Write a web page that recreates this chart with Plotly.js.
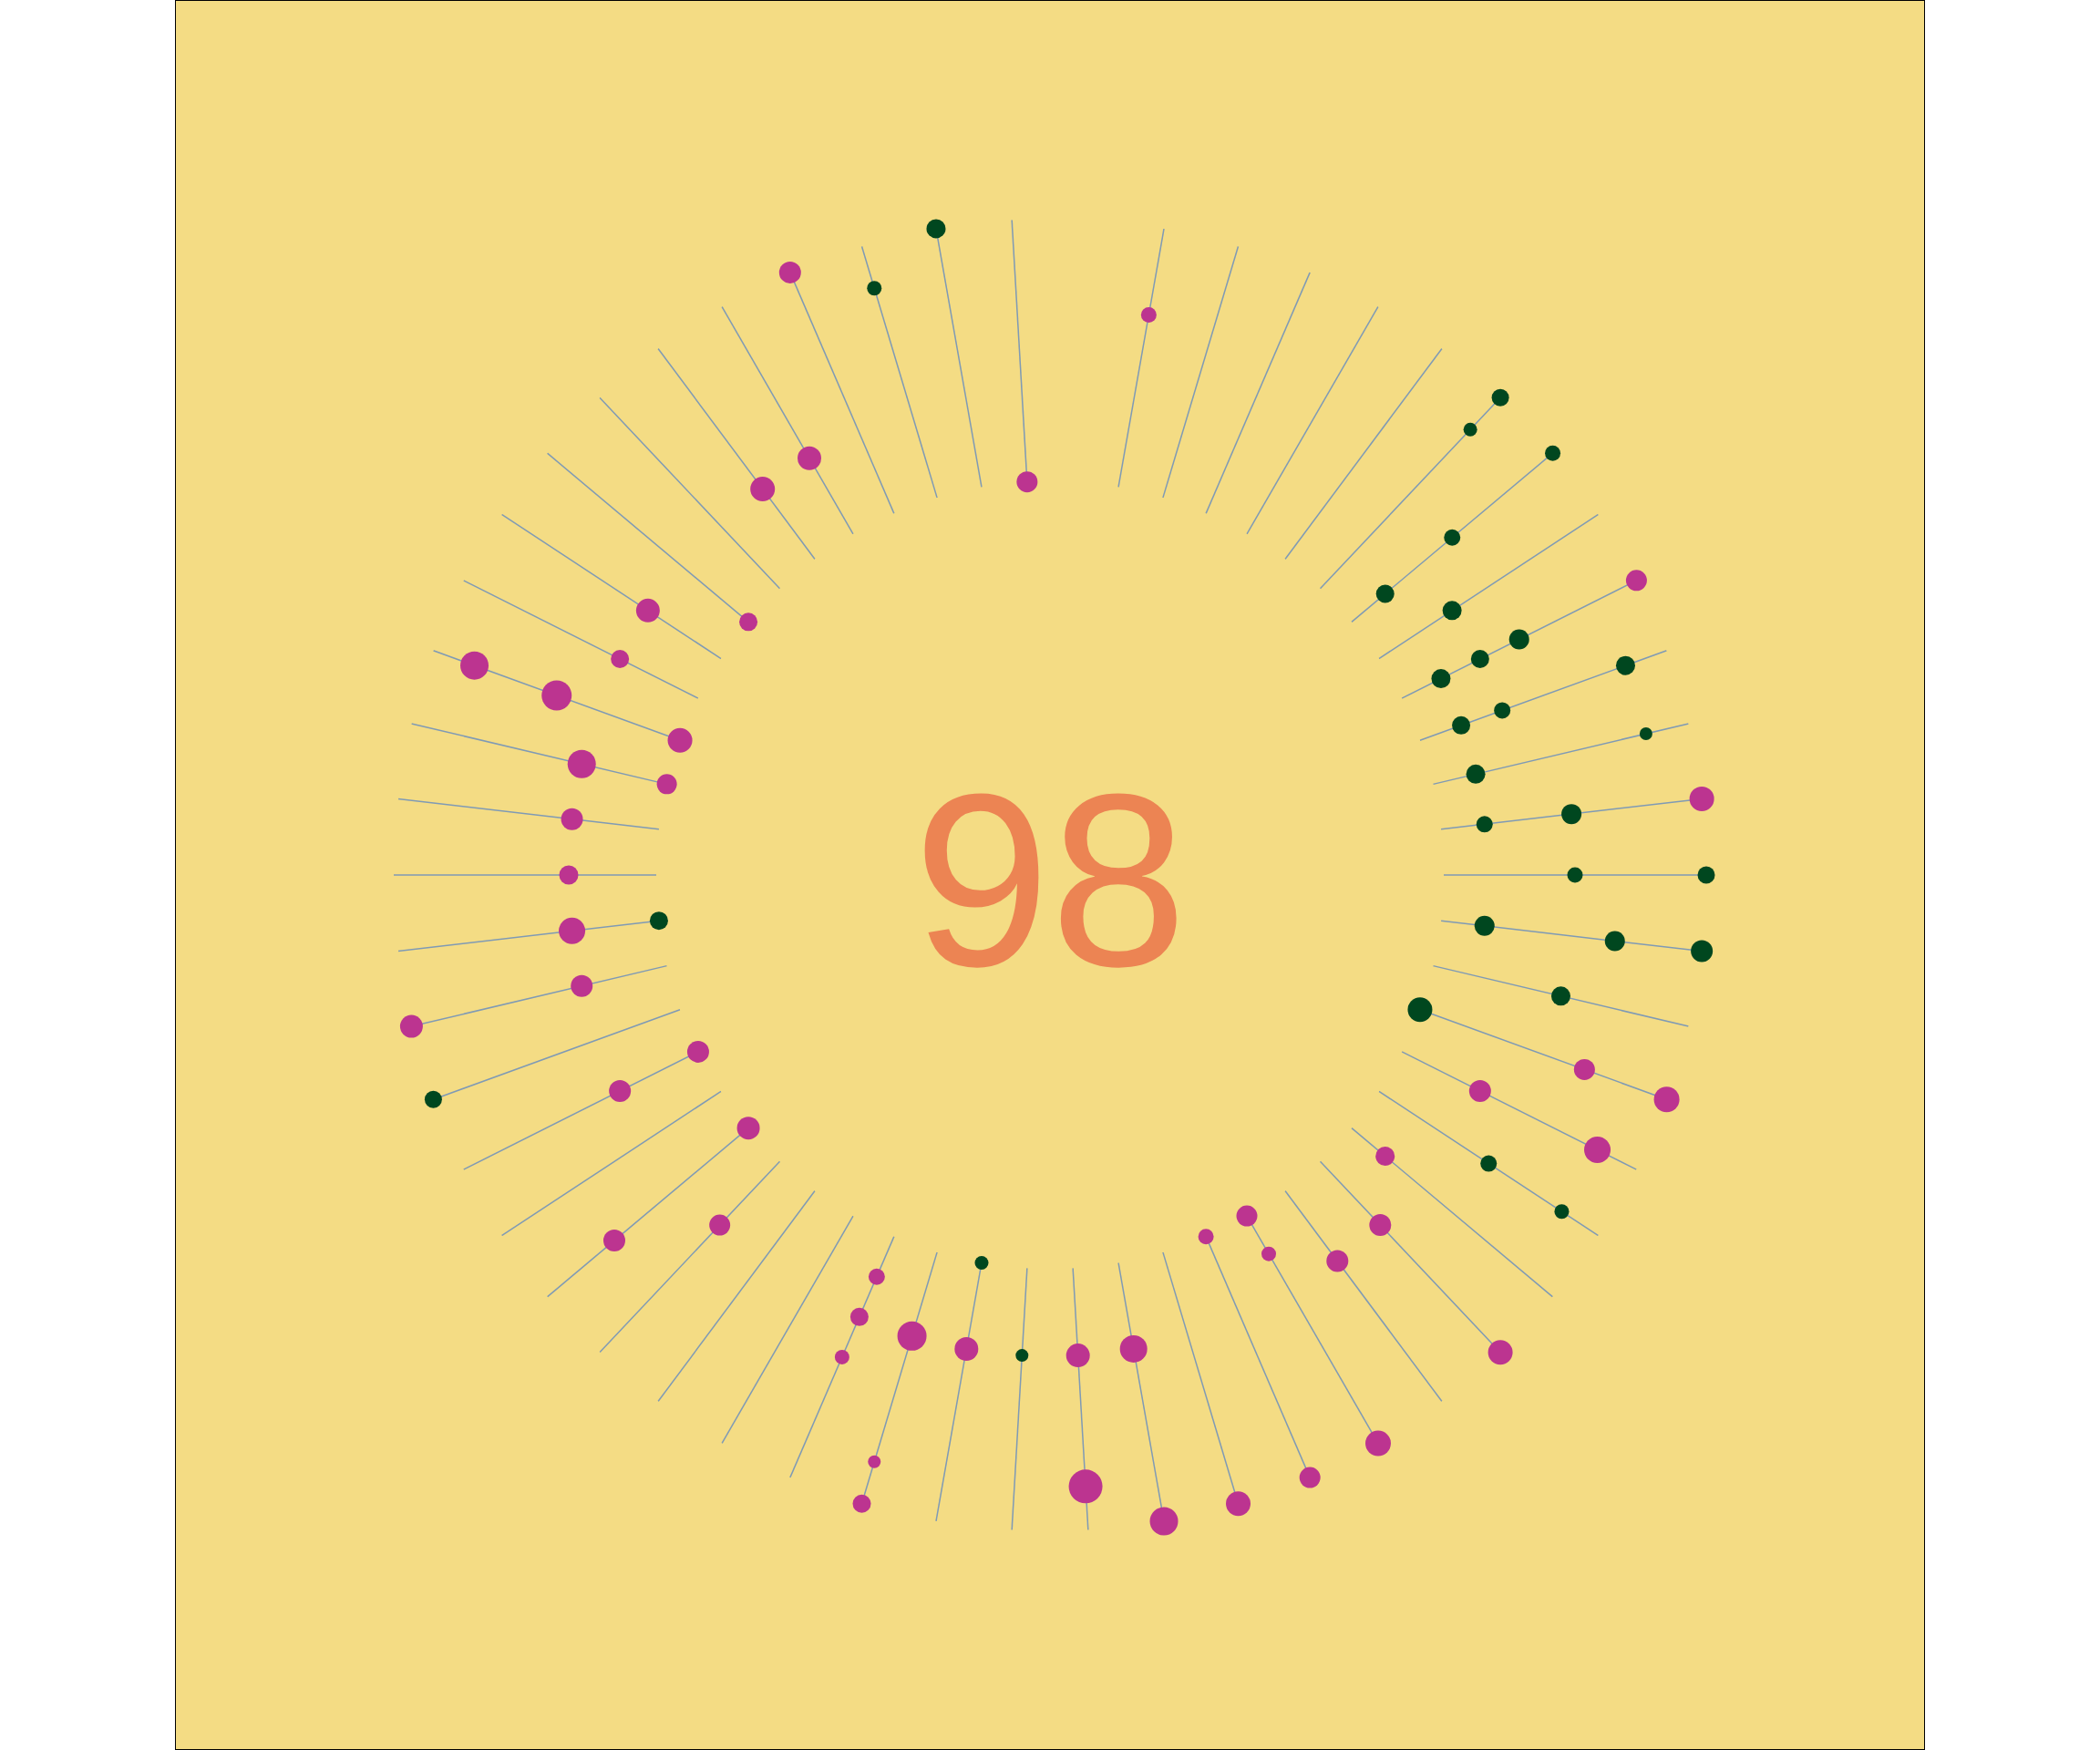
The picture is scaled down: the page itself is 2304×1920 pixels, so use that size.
<!DOCTYPE html>
<html>
<head>
<meta charset="utf-8">
<script src="https://cdn.plot.ly/plotly-3.0.1.min.js"></script>
<style>
  html, body { margin: 0; padding: 0; background: #ffffff; }
  #frame { width: 1920px; height: 1920px; margin: 0 auto; border: 1px solid #000; box-sizing: border-box; background: #f4dc84; }
  #chart { width: 1918px; height: 1918px; }
</style>
</head>
<body>
<div id="frame"><div id="chart"></div></div>
<script>
// 54 angular slots round the circle; slot 13 has no spoke
const SLOTS = 54;
const spokeSlots = [0, 1, 2, 3, 4, 5, 6, 7, 8, 9, 10, 11, 12, 14, 15, 16, 17, 18, 19, 20, 21, 22, 23, 24, 25, 26,
  27, 28, 29, 30, 31, 32, 33, 34, 35, 36, 37, 38, 39, 40, 41, 42, 43, 44, 45, 46, 47, 48, 49, 50, 51, 52, 53];
const levelMin = 0, levelMax = 6;
const centerLabel = '98';

// dots: slot, level (0–6), group (m = magenta, g = green), weight
const dotSlot   = [0, 0, 1, 1, 1, 2, 2, 3, 3, 3, 4, 4, 4, 4, 5, 6, 6, 6, 7, 7,
  12, 14, 15, 16, 17, 18, 19, 21, 22, 23, 24, 24, 24, 25, 25, 26, 27, 28, 28, 29, 29, 30, 31, 31, 33, 33, 34,
  37, 37, 37, 38, 38, 38, 39, 39, 40, 41, 41, 42, 42, 43, 44, 44, 45, 45, 45, 46, 47, 47, 48, 49, 49,
  50, 50, 51, 51, 51, 52, 53, 53, 53];
const dotLevel  = [3, 6, 1, 3, 6, 1, 5, 1, 2, 5, 1, 2, 3, 6, 2, 1, 3, 6, 5, 6,
  4, 0, 6, 5, 6, 2, 2, 0, 2, 2, 0, 3, 5, 0, 2, 2, 2, 0, 2, 2, 6, 6, 0, 2, 0, 4, 2,
  1, 2, 3, 2, 5, 6, 0, 2, 2, 2, 5, 2, 6, 6, 0, 6, 0, 1, 6, 2, 2, 6, 1, 3, 5,
  2, 5, 0, 4, 6, 3, 1, 4, 6];
const dotGroup  = ['g', 'g', 'g', 'g', 'm', 'g', 'g', 'g', 'g', 'g', 'g', 'g', 'g', 'm', 'g', 'g', 'g', 'g', 'g', 'g',
  'm', 'm', 'g', 'g', 'm', 'm', 'm', 'm', 'm', 'm', 'm', 'm', 'm', 'm', 'm', 'm', 'm', 'g', 'm', 'm', 'm', 'g', 'm', 'm', 'm', 'm', 'm',
  'm', 'm', 'm', 'm', 'm', 'm', 'g', 'm', 'g', 'm', 'm', 'm', 'm', 'm', 'm', 'm', 'm', 'm', 'm', 'm', 'm', 'm', 'm', 'g', 'g',
  'm', 'm', 'g', 'm', 'm', 'g', 'g', 'g', 'g'];
const dotWeight = [17, 19, 18, 22, 27, 21, 14, 20, 18, 21, 21, 20, 22, 23, 21, 20, 18, 17, 15, 19,
  17, 23, 21, 16, 24, 26, 27, 20, 26, 20, 27, 33, 31, 22, 31, 24, 21, 20, 29, 24, 25, 19, 24, 24, 25, 24, 23,
  18, 20, 16, 32, 14, 20, 15, 26, 14, 26, 37, 30, 31, 27, 17, 23, 23, 16, 28, 24, 24, 27, 21, 18, 16,
  24, 29, 27, 23, 28, 21, 22, 22, 24];

const COLORS = {
  bg: '#f4dc84',
  spoke: '#7f9ab5',
  m: '#bc3490',
  g: '#00471f',
  label: '#ec8453',
};
const FONT = '"Liberation Sans", Arial, sans-serif';

const thetaOf = s => s * 360 / SLOTS;

// spokes: one segment per slot from inner to outer level, broken by nulls
const spokeR = [], spokeT = [];
spokeSlots.forEach(s => {
  spokeR.push(levelMin, levelMax, null);
  spokeT.push(thetaOf(s), thetaOf(s), null);
});

function dotTrace(group) {
  const idx = dotSlot.map((_, i) => i).filter(i => dotGroup[i] === group);
  return {
    type: 'scatterpolar', mode: 'markers', cliponaxis: false, hoverinfo: 'skip',
    r: idx.map(i => dotLevel[i]),
    theta: idx.map(i => thetaOf(dotSlot[i])),
    marker: { color: COLORS[group], size: idx.map(i => dotWeight[i]), line: { width: 0 }, opacity: 1 },
  };
}

const traces = [
  { type: 'scatterpolar', mode: 'lines', r: spokeR, theta: spokeT, hoverinfo: 'skip', cliponaxis: false,
    line: { color: COLORS.spoke, width: 1.5 } },
  dotTrace('m'),
  dotTrace('g'),
];

const layout = {
  width: 1918, height: 1918,
  margin: { l: 239, r: 239, t: 239, b: 239, pad: 0 },
  paper_bgcolor: COLORS.bg,
  plot_bgcolor: COLORS.bg,
  showlegend: false,
  polar: {
    domain: { x: [0, 1], y: [0, 1] },
    bgcolor: 'rgba(0,0,0,0)',
    hole: 0.6,
    radialaxis: { range: [levelMin, levelMax], visible: false, showgrid: false },
    angularaxis: { visible: false, showgrid: false, showline: false, rotation: 0, direction: 'counterclockwise' },
  },
  annotations: [{
    text: centerLabel, x: 0.5, y: 0.5, xref: 'paper', yref: 'paper', xanchor: 'center', yanchor: 'middle',
    yshift: -5, showarrow: false, font: { family: FONT, size: 270, color: COLORS.label },
  }],
};

Plotly.newPlot('chart', traces, layout, { displayModeBar: false, staticPlot: true });
</script>
</body>
</html>
